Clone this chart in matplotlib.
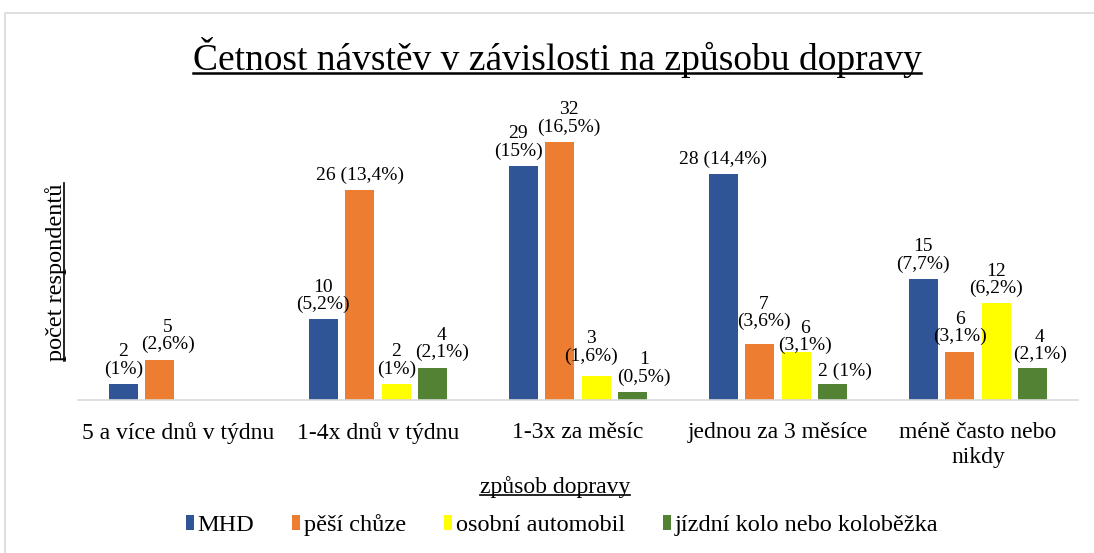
import matplotlib
matplotlib.use("Agg")
import matplotlib.pyplot as plt
from matplotlib.patches import Patch, Rectangle
from matplotlib.lines import Line2D
import numpy as np

plt.rcParams['font.family'] = ['Liberation Serif', 'DejaVu Serif']

categories = ["5 a více dnů v týdnu", "1-4x dnů v týdnu", "1-3x za měsíc",
              "jednou za 3 měsíce", "méně často nebo\nnikdy"]
series_names = ["MHD", "pěší chůze", "osobní automobil", "jízdní kolo nebo koloběžka"]
mhd = [2, 10, 29, 28, 15]
pesi = [5, 26, 32, 7, 6]
auto = [0, 2, 3, 6, 12]
kolo = [0, 4, 1, 2, 4]
mhd_lbl = ["2\n(1%)", "10\n(5,2%)", "29\n(15%)", "28 (14,4%)", "15\n(7,7%)"]
pesi_lbl = ["5\n(2,6%)", "26 (13,4%)", "32\n(16,5%)", "7\n(3,6%)", "6\n(3,1%)"]
auto_lbl = ["", "2\n(1%)", "3\n(1,6%)", "6\n(3,1%)", "12\n(6,2%)"]
kolo_lbl = ["", "4\n(2,1%)", "1\n(0,5%)", "2 (1%)", "4\n(2,1%)"]
title = "Četnost návstěv v závislosti na způsobu dopravy"
xlabel = "způsob dopravy"
ylabel = "počet respondentů"

colors = ["#2F5597", "#ED7D31", "#FFFF00", "#548235"]

# label nudges in pixels (dx, dy) keyed by (series index, category index)
nudge = {(1, 0): (8, 0), (3, 1): (9, 0), (0, 2): (-5, 0), (1, 2): (9, 0),
         (2, 2): (-5, 5), (3, 2): (11, 0), (1, 3): (4, 7), (2, 3): (9, -9),
         (3, 3): (12, -2), (3, 4): (7, -2)}

W, H = 1094, 553
fig = plt.figure(figsize=(W / 100, H / 100), dpi=100)
ax = fig.add_axes([78 / W, (H - 400) / H, 1000 / W, (400 - 117.6) / H])

values = [mhd, pesi, auto, kolo]
labels = [mhd_lbl, pesi_lbl, auto_lbl, kolo_lbl]
x = np.arange(len(categories))
step, bw = 0.1825, 0.145
for j, (vals, lbls, c) in enumerate(zip(values, labels, colors)):
    xs = x + (j - 1.5) * step
    ax.bar(xs, vals, width=bw, color=c, edgecolor='none', zorder=2)
    for i, (xi, v, lb) in enumerate(zip(xs, vals, lbls)):
        if lb:
            dx, dy = nudge.get((j, i), (0, 0))
            ax.annotate(lb, xy=(xi, v), xytext=(dx * 0.72, 4.5 + dy * 0.72),
                        textcoords='offset points',
                        ha='center', va='bottom', fontsize=14, linespacing=1.0,
                        color='#000000')

ax.set_xlim(-0.5, len(categories) - 0.5)
ax.set_ylim(0, 35)
ax.set_xticks(x)
ax.set_xticklabels(categories, fontsize=17, linespacing=1.25)
ax.tick_params(axis='x', length=0, pad=16)
ax.set_yticks([])
for s in ['top', 'right', 'left']:
    ax.spines[s].set_visible(False)
ax.spines['bottom'].set_color('#d9d9d9')
ax.spines['bottom'].set_linewidth(1.2)

t_title = fig.text(557 / W, 1 - 57 / H, title, ha='center', va='center', fontsize=27)
t_xl = fig.text(555 / W, 1 - 487 / H, xlabel, ha='center', va='center', fontsize=17)
t_yl = fig.text(56 / W, 1 - 272 / H, ylabel, ha='center', va='center', fontsize=17.5,
                rotation=90)

handles = [Patch(facecolor=c, edgecolor='none') for c in colors]
fig.legend(handles, series_names, loc='center', bbox_to_anchor=(562 / W, 1 - 525 / H),
           ncol=4, frameon=False, fontsize=17.5, handlelength=0.34, handleheight=0.55,
           handletextpad=0.15, columnspacing=1.55)

fig.patches.append(Rectangle((5 / W, -0.05), 1.1, 1 - 13 / H + 0.05,
                             transform=fig.transFigure, fill=False,
                             edgecolor='#d9d9d9', linewidth=1.2))

# underlines
fig.canvas.draw()
r = fig.canvas.get_renderer()
def underline(t, vertical=False, lw=1.2):
    bb = t.get_window_extent(r)
    fs = t.get_fontsize() * 100 / 72
    _, _, d = r.get_text_width_height_descent(t.get_text(), t.get_fontproperties(), ismath=False)
    if not vertical:
        y = bb.y0 + d - 0.09 * fs
        fig.add_artist(Line2D([bb.x0 / W, bb.x1 / W], [y / H, y / H],
                              transform=fig.transFigure, color='black', lw=lw))
    else:
        xx = bb.x1 - d + 0.09 * fs
        fig.add_artist(Line2D([xx / W, xx / W], [bb.y0 / H, bb.y1 / H],
                              transform=fig.transFigure, color='black', lw=lw))

underline(t_title, lw=1.8)
underline(t_xl)
underline(t_yl, vertical=True)

fig.savefig("out.png", dpi=100)
